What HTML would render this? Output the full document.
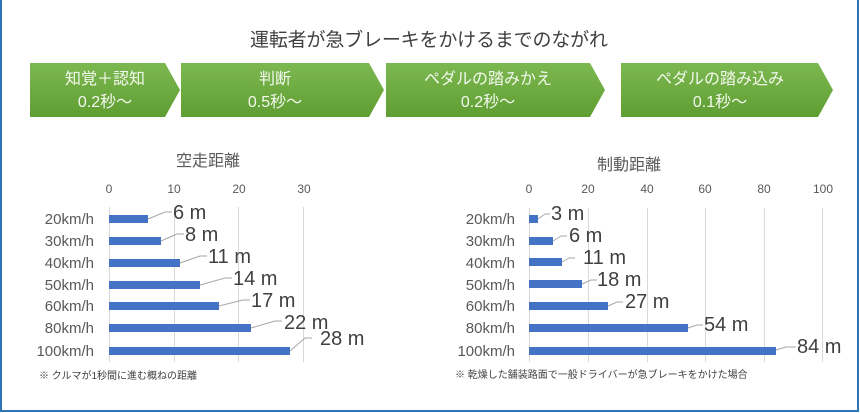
<!DOCTYPE html>
<html><head><meta charset="utf-8"><style>
html,body{margin:0;padding:0;background:#fff}
svg{display:block}
text{font-family:"Liberation Sans","Noto Sans CJK JP",sans-serif}
</style></head><body>
<svg width="860" height="413" viewBox="0 0 860 413" xmlns="http://www.w3.org/2000/svg">
<defs>
<linearGradient id="g" x1="0" y1="0" x2="0" y2="1">
<stop offset="0" stop-color="#7cb850"/><stop offset="1" stop-color="#5f9e32"/>
</linearGradient>
</defs>
<rect x="0" y="0" width="860" height="413" fill="#fff"/>
<rect x="1" y="-2" width="857" height="413" fill="none" stroke="#2e75b6" stroke-width="2"/>
<text x="429" y="46" font-size="19" fill="#404040" text-anchor="middle" textLength="358">運転者が急ブレーキをかけるまでのながれ</text>
<g fill="url(#g)">
<polygon points="30,63 165,63 180,90 165,117 30,117"/>
<polygon points="181,63 369,63 384,90 369,117 181,117"/>
<polygon points="386,63 590,63 605,90 590,117 386,117"/>
<polygon points="621,63 818,63 833,90 818,117 621,117"/>
</g>
<g fill="#f4f9ef" font-size="16" text-anchor="middle">
<text x="105" y="84">知覚＋認知</text><text x="105" y="107">0.2秒～</text>
<text x="275" y="84">判断</text><text x="275" y="107">0.5秒～</text>
<text x="488" y="84">ペダルの踏みかえ</text><text x="488" y="107">0.2秒～</text>
<text x="720" y="84">ペダルの踏み込み</text><text x="720" y="107">0.1秒～</text>
</g>
<!-- left chart -->
<text x="208" y="166" font-size="16" fill="#595959" text-anchor="middle">空走距離</text>
<g stroke="#d9d9d9" stroke-width="1">
<line x1="109.5" y1="207" x2="109.5" y2="362"/><line x1="174.5" y1="207" x2="174.5" y2="362"/>
<line x1="238.5" y1="207" x2="238.5" y2="362"/><line x1="303.5" y1="207" x2="303.5" y2="362"/>
</g>
<g font-size="12" fill="#595959" text-anchor="middle">
<text x="109" y="193">0</text><text x="174" y="193">10</text><text x="239" y="193">20</text><text x="304" y="193">30</text>
</g>
<g font-size="15" fill="#595959" text-anchor="end">
<text x="94" y="224">20km/h</text><text x="94" y="246">30km/h</text><text x="94" y="268">40km/h</text>
<text x="94" y="290">50km/h</text><text x="94" y="311">60km/h</text><text x="94" y="333">80km/h</text><text x="94" y="356">100km/h</text>
</g>
<g fill="#4472c4">
<rect x="109" y="215" width="39" height="8"/><rect x="109" y="237" width="52" height="8"/>
<rect x="109" y="259" width="71" height="8"/><rect x="109" y="281" width="91" height="8"/>
<rect x="109" y="302" width="110" height="8"/><rect x="109" y="324" width="142" height="8"/>
<rect x="109" y="347" width="181" height="8"/>
</g>
<g stroke="#a6a6a6" fill="none" stroke-width="1">
<polyline points="148,219 165,212 172,212"/><polyline points="161,241 177,234 184,234"/>
<polyline points="180,263 200,256 207,256"/><polyline points="200,285 225,278 232,278"/>
<polyline points="219,306 243,300 250,300"/><polyline points="251,328 275,321 282,321"/>
<polyline points="290,351 305,338 312,338"/>
</g>
<g font-size="20" fill="#404040">
<text x="173" y="219">6 m</text><text x="185" y="241">8 m</text><text x="208" y="263">11 m</text>
<text x="233" y="285">14 m</text><text x="251" y="307">17 m</text><text x="284" y="329">22 m</text>
<text x="320" y="345">28 m</text>
</g>
<text x="39" y="379" font-size="10" fill="#404040">※ クルマが1秒間に進む概ねの距離</text>
<!-- right chart -->
<text x="629" y="170" font-size="16" fill="#595959" text-anchor="middle">制動距離</text>
<g stroke="#d9d9d9" stroke-width="1">
<line x1="529.5" y1="208" x2="529.5" y2="362"/><line x1="588.5" y1="208" x2="588.5" y2="362"/>
<line x1="647.5" y1="208" x2="647.5" y2="362"/><line x1="705.5" y1="208" x2="705.5" y2="362"/>
<line x1="764.5" y1="208" x2="764.5" y2="362"/><line x1="822.5" y1="208" x2="822.5" y2="362"/>
</g>
<g font-size="12" fill="#595959" text-anchor="middle">
<text x="529" y="193">0</text><text x="588" y="193">20</text><text x="647" y="193">40</text>
<text x="705" y="193">60</text><text x="764" y="193">80</text><text x="823" y="193">100</text>
</g>
<g font-size="15" fill="#595959" text-anchor="end">
<text x="515" y="224">20km/h</text><text x="515" y="246">30km/h</text><text x="515" y="268">40km/h</text>
<text x="515" y="290">50km/h</text><text x="515" y="311">60km/h</text><text x="515" y="333">80km/h</text><text x="515" y="356">100km/h</text>
</g>
<g fill="#4472c4">
<rect x="529" y="215" width="9" height="8"/><rect x="529" y="237" width="24" height="8"/>
<rect x="529" y="258" width="33" height="8"/><rect x="529" y="280" width="53" height="8"/>
<rect x="529" y="302" width="79" height="8"/><rect x="529" y="324" width="159" height="8"/>
<rect x="529" y="347" width="247" height="8"/>
</g>
<g stroke="#a6a6a6" fill="none" stroke-width="1">
<polyline points="538,219 545,214 550,214"/><polyline points="553,241 561,236 567,236"/>
<polyline points="562,262 569,258 575,258"/><polyline points="582,284 591,280 597,280"/>
<polyline points="608,306 617,302 623,302"/><polyline points="688,328 697,325 703,325"/>
<polyline points="776,350 786,347 796,347"/>
</g>
<g font-size="20" fill="#404040">
<text x="551" y="220">3 m</text><text x="569" y="242">6 m</text><text x="583" y="264">11 m</text>
<text x="597" y="286">18 m</text><text x="625" y="308">27 m</text><text x="704" y="331">54 m</text>
<text x="797" y="353">84 m</text>
</g>
<text x="455" y="378" font-size="10" fill="#404040">※ 乾燥した舗装路面で一般ドライバーが急ブレーキをかけた場合</text>
</svg>
</body></html>
